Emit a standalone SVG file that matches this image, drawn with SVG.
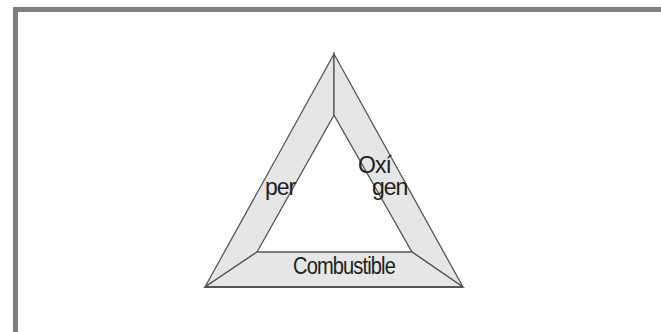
<svg xmlns="http://www.w3.org/2000/svg" width="661" height="332" viewBox="0 0 661 332">
<style>
.band{fill:#e6e6e6;stroke:#555;stroke-width:1.3;stroke-linejoin:miter}
.lbl{font-family:"Liberation Sans",Arial,sans-serif;font-size:23px;fill:#222;letter-spacing:-1px}
</style>
<rect x="0" y="0" width="661" height="332" fill="#fff"/>
<rect x="15.5" y="9.5" width="650" height="340" fill="#fff" stroke="#808080" stroke-width="5"/>
<g id="calor">
<polygon class="band" points="334,54 334,115 257,252 205,287"/>
<text class="lbl" x="265" y="195">per</text>
</g>
<g id="oxigeno">
<polygon class="band" points="334,54 463,287 412,252 334,115"/>
<text class="lbl" x="358" y="173">Oxí</text>
<text class="lbl" x="372" y="195">gen</text>
</g>
<g id="combustible">
<polygon class="band" points="205,287 257,252 412,252 463,287"/>
<line x1="205" y1="287" x2="463" y2="287" stroke="#555" stroke-width="2"/>
<text class="lbl" x="293" y="274" textLength="102" lengthAdjust="spacingAndGlyphs">Combustible</text>
</g>
<g id="connectors"></g>
</svg>
